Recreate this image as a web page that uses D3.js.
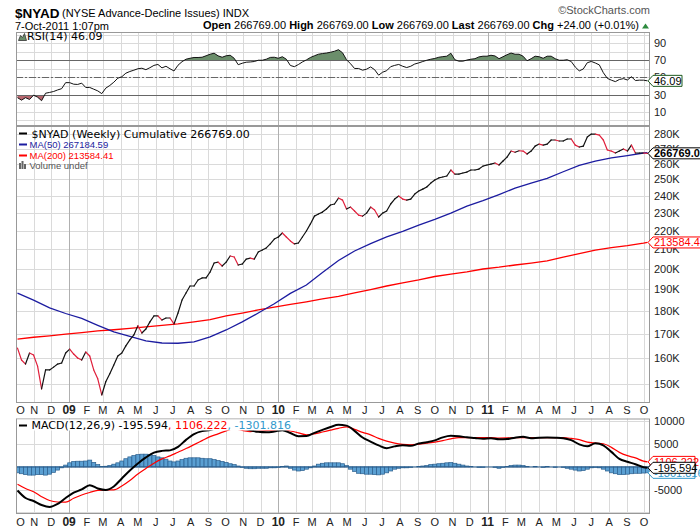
<!DOCTYPE html>
<html>
<head>
<meta charset="utf-8">
<script src="https://cdn.jsdelivr.net/npm/d3@7"></script>
<style>
body { margin:0; background:#fff; }
svg text { font-family: "Liberation Sans", Arial, sans-serif; }
</style>
</head>
<body>
<script>
// weekly $NYAD (cumulative A-D line), in thousands, 3-Oct-2008 .. 7-Oct-2011
var nyad = [164.1,159.3,157.7,162.1,161.3,156.9,148.2,155.4,155.4,156.5,
	157.7,158.1,162.1,163.7,161.7,160.1,159.3,162.5,160.9,155.4,
	152.0,146.0,150.9,153.9,157.3,160.9,162.1,165.0,167.5,169.6,
	173.5,170.4,172.1,175.2,177.8,177.8,176.0,176.9,176.9,174.3,
	179.1,185.0,188.3,191.6,191.6,194.5,195.5,195.5,198.4,202.9,
	203.4,201.4,203.4,206.5,206.0,201.9,202.4,204.9,205.4,204.9,
	208.6,209.6,210.7,212.8,215.4,216.5,218.7,216.5,214.4,212.8,
	213.3,216.5,219.8,223.7,228.1,229.3,230.4,232.2,234.5,235.1,
	238.6,237.4,232.2,233.3,231.0,228.7,228.1,229.8,233.3,231.6,
	227.6,229.8,231.0,235.1,238.0,239.8,238.0,237.4,238.0,241.0,
	242.8,244.0,245.3,247.7,249.6,250.9,251.5,252.1,255.9,253.3,
	253.3,254.0,254.6,255.9,255.9,256.5,258.4,259.1,259.7,260.4,
	259.1,261.7,264.3,268.3,267.5,268.5,268.3,266.3,268.3,271.6,
	273.0,272.3,273.0,275.8,275.8,275.1,275.1,276.5,276.5,272.3,
	271.0,271.6,277.9,279.9,279.9,279.2,275.8,269.0,268.3,267.0,
	268.3,269.7,268.3,272.3,267.0,267.0,267.0,266.769];

var rsi = [26.5,23.6,26.5,24.4,29.4,27.1,23.0,31.7,32.6,33.7,
	35.5,37.0,44.0,44.0,42.2,41.9,43.4,38.4,38.4,36.4,
	34.4,31.2,37.6,40.7,44.5,49.2,50.9,55.0,57.0,58.5,
	60.2,60.8,59.1,61.4,64.1,65.2,61.2,63.1,60.2,57.6,
	64.3,68.4,71.3,72.4,73.3,73.3,73.6,75.3,77.1,78.3,
	75.2,73.6,75.3,75.9,72.4,64.9,66.6,67.8,68.1,68.6,
	70.1,70.1,71.3,73.4,73.6,72.4,74.2,71.3,64.0,62.6,
	65.1,68.1,70.5,73.3,75.3,77.1,77.9,78.5,79.4,80.6,
	82.4,78.8,70.7,66.0,60.5,60.5,58.5,59.7,62.3,59.1,
	52.7,56.2,57.9,62.6,64.1,65.2,63.1,61.6,63.1,65.7,
	67.0,68.6,70.1,71.3,72.2,73.6,74.3,74.8,78.3,70.7,
	69.0,69.0,70.3,71.3,71.9,74.0,74.8,74.8,75.9,75.1,
	71.9,74.2,76.5,78.5,77.1,77.1,74.8,69.5,71.9,74.8,
	74.2,72.4,74.8,74.8,71.9,70.1,70.1,70.7,68.6,62.2,
	57.7,59.9,67.2,68.7,66.9,64.7,55.6,49.0,46.9,45.2,
	47.7,48.7,47.1,50.9,46.5,46.9,46.9,46.09];

// moving averages read every 4th week (last value = latest week), thousands
var ma50 = [188.2,185.0,181.4,178.9,176.7,173.7,170.9,169.0,167.1,166.2,
	166.1,166.7,168.8,171.7,175.2,179.1,183.3,188.1,192.1,198.2,
	204.2,209.1,213.0,216.6,219.6,223.0,226.2,229.8,233.8,237.1,
	240.7,244.6,247.6,250.6,254.8,258.9,261.6,263.7,265.3,267.0,267.18459];
var ma200 = [167.8,168.6,169.2,169.9,170.6,171.3,171.8,172.4,173.0,173.7,
	174.3,175.2,176.2,177.8,179.1,180.5,181.8,183.0,184.2,185.5,
	186.7,188.3,189.9,191.6,193.1,194.5,196.2,197.4,198.5,199.9,
	200.8,201.9,202.9,204.0,205.9,207.7,209.5,210.9,211.9,213.2,213.58441];

// MACD(12,26,9) read every 2nd week (last value = latest week)
var macdLine = [-5177,-6829,-7490,-8371,-8812,-8151,-6829,-5662,-4957,-4031,
	-4736,-5067,-4296,-2533,-771,771,2093,3150,3525,3635,
	4406,5948,7226,7865,8107,8592,8922,8812,8482,8041,
	7711,7600,7777,8085,7446,6763,6785,7490,8151,8768,
	9253,9077,7931,6455,5574,4736,4120,4516,4781,4626,
	5133,5441,5838,6499,6829,6719,6499,6345,6168,6279,
	6058,6124,6433,6609,6323,6433,6455,6411,6323,5882,
	4957,4516,5177,4736,3305,1762,1146,595,-66,-195.594];
var macdSignal = [-3789,-4736,-5463,-6543,-7380,-7711,-7755,-6895,-6168,-5618,
	-5177,-5067,-5067,-4186,-2974,-1542,-330,815,1762,2423,
	3238,4031,4891,5772,6653,7270,7931,8327,8041,7777,
	7887,7975,8041,8151,7887,7490,7050,7270,7666,8085,
	8482,8812,8261,7600,7050,6279,5662,5221,4957,4847,
	5023,5221,5463,5772,6168,6455,6455,6455,6455,6433,
	6345,6367,6433,6455,6455,6455,6455,6455,6433,6256,
	5992,5441,5243,5089,4296,3194,2467,1983,1278,1106.222];
// weekly histogram
var macdHist = [-1300,-1500,-1700,-1800,-1800,-1700,-1700,-1800,-1600,-1200,
	-700,-200,400,900,1200,1250,1250,1300,1500,1000,
	500,100,150,300,600,900,1300,1800,2200,2500,
	2700,2800,2800,2700,2500,2200,2000,1700,1300,1100,
	1300,1600,1900,2000,2000,2000,1900,1800,1800,1600,
	1400,1200,1000,700,500,200,-100,-300,-400,-400,
	-300,-300,-300,-200,-200,-100,100,200,-300,-700,
	-900,-800,-500,-200,200,600,800,900,900,900,
	900,700,300,-500,-1000,-1400,-1500,-1600,-1600,-1700,
	-1750,-1600,-1300,-900,-500,-300,-200,-200,-100,0,
	100,200,300,500,600,700,800,900,950,800,
	600,400,200,100,0,-100,-100,0,0,-100,
	-300,-100,100,300,400,400,300,100,0,100,
	0,-100,100,0,-100,0,-100,-300,-500,-700,
	-900,-800,-500,-200,-100,-200,-500,-900,-1300,-1500,
	-1700,-1700,-1600,-1500,-1400,-1400,-1350,-1301.816];

var rsiTicks = [90,70,50,30,10];
var rsiGrid = [0,10,20,30,40,50,60,70,80,90,100];
var mainTicks = [150,160,170,180,190,200,210,220,230,240,250,260,270,280];
var macdTicks = [10000,5000,0,-5000];
var macdGrid = [10000,5000,0,-5000,-10000];
var monthLetters = ["J","F","M","A","M","J","J","A","S","O","N","D"];
var quoteFields = [["Open","266769.00"],["High","266769.00"],["Low","266769.00"],["Last","266769.00"],["Chg","+24.00 (+0.01%)"]];

var left = 16, right = 650;
var rsiTop = 32, rsiBot = 126, mainTop = 126, mainBot = 403, macdTop = 418.5, macdBot = 514;

// plain hyphen for negatives, like the original
var loc = d3.formatLocale({decimal:".", thousands:",", grouping:[3], currency:["$",""], minus:"-"});
var fmt2 = loc.format(".2f"), fmt3 = loc.format(".3f");

var firstWeek = new Date(2008, 9, 3);
var weeks = nyad.map(function(d,i){ return d3.timeDay.offset(firstWeek, 7*i); });
function sparse(arr, step) {
	return arr.map(function(v,i){
		return { date: i == arr.length-1 ? weeks[weeks.length-1] : weeks[i*step], v: v };
	});
}

var x = d3.scaleTime()
	.domain([new Date(2008,8,30,9), new Date(2011,9,11,10)])
	.range([left, right]);
var yR = d3.scaleLinear().domain([-6.5,103]).range([rsiBot, rsiTop]);
var yM = d3.scaleLog().domain([143.1,285.6]).range([mainBot, mainTop]);
var yD = d3.scaleLinear().domain([-10350,10640]).range([macdBot, macdTop]);

var months = d3.timeMonth.range(new Date(2008,9,1), new Date(2011,9,2));

var svg = d3.select("body").append("svg")
	.attr("width",700)
	.attr("height",530)
	.style("display","block");

var y70 = Math.round(yR(70))+0.5, y30 = Math.round(yR(30))+0.5, y50 = Math.round(yR(50))+0.5;

var defs = svg.append("defs");
function clip(id, y0, y1) {
	defs.append("clipPath").attr("id",id)
		.append("rect").attr("x",left).attr("y",y0).attr("width",right-left).attr("height",y1-y0);
}
clip("clipRsi", rsiTop, rsiBot);
clip("clipRsiHi", rsiTop, y70);
clip("clipRsiLo", y30, rsiBot);
clip("clipMain", mainTop, mainBot);
clip("clipMacd", macdTop, macdBot);

// ---- header
svg.append("text").attr("x",15).attr("y",18)
	.style("font-size","13.5px").style("font-weight","bold").text("$NYAD");
svg.append("text").attr("x",62).attr("y",17)
	.style("font-size","11px").text("(NYSE Advance-Decline Issues) INDX");
svg.append("text").attr("x",15).attr("y",30)
	.style("font-size","11px").text("7-Oct-2011 1:07pm");
svg.append("text").attr("x",650).attr("y",14).attr("text-anchor","end")
	.style("font-size","11px").style("fill","#555").text("\u00a9StockCharts.com");

var quote = svg.append("text").attr("x",639).attr("y",29).attr("text-anchor","end")
	.style("font-size","11px");
quoteFields.forEach(function(f,i){
	quote.append("tspan").style("font-weight","bold").text((i ? " " : "") + f[0]);
	quote.append("tspan").text(" " + f[1]);
});
svg.append("path").attr("d","M642,28.5L645.5,23.5L649,28.5Z").attr("fill","#2e8b3e");

// ---- grid for a panel
function grid(top, bot, hvals, yscale) {
	var g = svg.append("g");
	g.append("rect").attr("x",left).attr("y",top).attr("width",right-left).attr("height",bot-top)
		.attr("fill","#fff");
	g.selectAll("line.h").data(hvals).enter().append("line")
		.attr("x1",left).attr("x2",right)
		.attr("y1",function(d){ return Math.round(yscale(d))+0.5; })
		.attr("y2",function(d){ return Math.round(yscale(d))+0.5; })
		.attr("stroke","#dadada");
	g.selectAll("line.v").data(months).enter().append("line")
		.attr("x1",function(d){ return Math.round(x(d))+0.5; })
		.attr("x2",function(d){ return Math.round(x(d))+0.5; })
		.attr("y1",top).attr("y2",bot)
		.attr("stroke",function(d){ return d.getMonth()==0 ? "#b0b0b0" : "#dadada"; });
	return g;
}
function frame(top, bot) {
	svg.append("rect").attr("x",left+0.5).attr("y",top+0.5)
		.attr("width",right-left-1).attr("height",bot-top-1)
		.attr("fill","none").attr("stroke","#999");
}
function rightLabels(vals, yscale, fmt) {
	svg.append("g").selectAll("text").data(vals).enter().append("text")
		.attr("x",654).attr("y",function(d){ return yscale(d)+4; })
		.style("font-size","11px").style("fill","#222")
		.text(fmt);
}
function monthLabels(y) {
	svg.append("g").selectAll("text").data(months).enter().append("text")
		.attr("x",function(d){ return x(d); })
		.attr("y",y)
		.attr("text-anchor",function(d,i){ return i==0 ? "start" : "middle"; })
		.style("font-size",function(d){ return d.getMonth()==0 ? "12px" : "11px"; })
		.style("font-weight",function(d){ return d.getMonth()==0 ? "bold" : "normal"; })
		.style("fill","#222")
		.text(function(d){ return d.getMonth()==0 ? d3.timeFormat("%y")(d) : monthLetters[d.getMonth()]; });
}
function priceTag(cy, label, edge, color, w, bold) {
	var x0 = 648, h = 11;
	var g = svg.append("g");
	g.append("path")
		.attr("d","M"+x0+","+cy+"L"+(x0+5)+","+(cy-h/2)+"L"+(x0+w)+","+(cy-h/2)+"L"+(x0+w)+","+(cy+h/2)+"L"+(x0+5)+","+(cy+h/2)+"Z")
		.attr("fill","#fff").attr("stroke",edge);
	g.append("text").attr("x",x0+6).attr("y",cy+4)
		.style("font-size","11px").style("font-weight",bold ? "bold" : "normal").style("fill",color)
		.text(label);
}

// ---- RSI panel
grid(rsiTop, rsiBot, rsiGrid, yR);
var rsiPts = weeks.map(function(d,i){ return {date:d, v:rsi[i]}; });
svg.append("path").datum(rsiPts).attr("clip-path","url(#clipRsiHi)")
	.attr("fill","#6b8e6b")
	.attr("d", d3.area().x(function(d){ return x(d.date); }).y0(y70+2).y1(function(d){ return yR(d.v); }));
svg.append("path").datum(rsiPts).attr("clip-path","url(#clipRsiLo)")
	.attr("fill","#b8676f")
	.attr("d", d3.area().x(function(d){ return x(d.date); }).y0(y30-2).y1(function(d){ return yR(d.v); }));
[y70, y30].forEach(function(yy){
	svg.append("line").attr("x1",left).attr("x2",right)
		.attr("y1",yy).attr("y2",yy).attr("stroke","#666");
});
svg.append("line").attr("x1",left).attr("x2",right)
	.attr("y1",y50).attr("y2",y50)
	.attr("stroke","#666").attr("stroke-dasharray","7,2,2,2");
svg.append("path").datum(rsiPts).attr("clip-path","url(#clipRsi)")
	.attr("fill","none").attr("stroke","#111").attr("stroke-width",1)
	.attr("d", d3.line().x(function(d){ return x(d.date); }).y(function(d){ return yR(d.v); }));
frame(rsiTop, rsiBot);
svg.append("path").attr("d","M18.5,40.5L20.5,35.5L22.5,37.5L24.5,33.5L26.5,40.5Z")
	.attr("fill","#6b8e6b").attr("stroke","#333").attr("stroke-width",0.8);
svg.append("text").attr("x",27).attr("y",40)
	.style("font-family","DejaVu Sans").style("font-size","11px")
	.text("RSI(14) " + fmt2(rsi[rsi.length-1]));
rightLabels(rsiTicks, yR, function(d){ return d; });

// ---- price panel
grid(mainTop, mainBot, mainTicks, yM);
var gm = svg.append("g").attr("clip-path","url(#clipMain)");
var lineM = d3.line().x(function(d){ return x(d.date); }).y(function(d){ return yM(d.v); });
gm.append("path").datum(sparse(ma200,4)).attr("fill","none")
	.attr("stroke","#ff0000").attr("stroke-width",1.3).attr("d",lineM);
gm.append("path").datum(sparse(ma50,4)).attr("fill","none")
	.attr("stroke","#1c1ca0").attr("stroke-width",1.3).attr("d",lineM);
// up weeks black, down weeks red
var segs = d3.pairs(weeks.map(function(d,i){ return {date:d, v:nyad[i]}; }));
gm.selectAll("line.seg").data(segs).enter().append("line")
	.attr("x1",function(d){ return x(d[0].date); })
	.attr("y1",function(d){ return yM(d[0].v); })
	.attr("x2",function(d){ return x(d[1].date); })
	.attr("y2",function(d){ return yM(d[1].v); })
	.attr("stroke",function(d){ return d[1].v < d[0].v ? "#e0203c" : "#111"; })
	.attr("stroke-width",1.2)
	.attr("stroke-linecap","round");
frame(mainTop, mainBot);

var lastN = nyad[nyad.length-1], last50 = ma50[ma50.length-1], last200 = ma200[ma200.length-1];
svg.append("line").attr("x1",19).attr("x2",27).attr("y1",133.5).attr("y2",133.5).attr("stroke","#000").attr("stroke-width",2);
svg.append("text").attr("x",31.5).attr("y",137.5)
	.style("font-family","DejaVu Sans").style("font-size","11px")
	.text("$NYAD (Weekly) Cumulative " + fmt2(lastN*1000));
svg.append("line").attr("x1",19).attr("x2",27).attr("y1",144.5).attr("y2",144.5).attr("stroke","#1c1ca0").attr("stroke-width",2);
svg.append("text").attr("x",29.5).attr("y",148)
	.style("font-size","9.5px").style("fill","#1c1ca0")
	.text("MA(50) " + fmt2(last50*1000));
svg.append("line").attr("x1",19).attr("x2",27).attr("y1",155.5).attr("y2",155.5).attr("stroke","#ff0000").attr("stroke-width",2);
svg.append("text").attr("x",29.5).attr("y",159)
	.style("font-size","9.5px").style("fill","#ff0000")
	.text("MA(200) " + fmt2(last200*1000));
[[19,163],[21.5,161],[24,164]].forEach(function(b){
	svg.append("rect").attr("x",b[0]).attr("y",b[1]).attr("width",2).attr("height",169-b[1]).attr("fill","#666");
});
svg.append("text").attr("x",29.5).attr("y",169)
	.style("font-size","9.5px").style("fill","#555").text("Volume undef");

rightLabels(mainTicks, yM, function(d){ return d + "K"; });
priceTag(yM(last200), fmt2(last200*1000), "#ff0000", "#ff0000", 60, false);
priceTag(yM(lastN), fmt2(lastN*1000), "#000", "#000", 60, true);
priceTag(yR(rsi[rsi.length-1]), fmt2(rsi[rsi.length-1]), "#1e5a1e", "#000", 34, false);

monthLabels(414);

// ---- MACD panel
grid(macdTop, macdBot, macdGrid, yD);
var gd = svg.append("g").attr("clip-path","url(#clipMacd)");
gd.selectAll("rect.bar").data(macdHist).enter().append("rect")
	.attr("x",function(d,i){ return x(weeks[i]) - 2; })
	.attr("width",4)
	.attr("y",function(d){ return Math.min(yD(0), yD(d)); })
	.attr("height",function(d){ return Math.abs(yD(d) - yD(0)); })
	.attr("fill","#5a9fd2")
	.attr("stroke","#2b5f8e")
	.attr("stroke-width",0.7);
gd.append("line").attr("x1",x(weeks[0])-2).attr("x2",x(weeks[weeks.length-1])+2)
	.attr("y1",yD(0)).attr("y2",yD(0)).attr("stroke","#2b5f8e");
var lineD = d3.line().curve(d3.curveMonotoneX).x(function(d){ return x(d.date); }).y(function(d){ return yD(d.v); });
gd.append("path").datum(sparse(macdSignal,2)).attr("fill","none")
	.attr("stroke","#ff0000").attr("stroke-width",1.2).attr("d",lineD);
gd.append("path").datum(sparse(macdLine,2)).attr("fill","none")
	.attr("stroke","#000").attr("stroke-width",2).attr("d",lineD);
frame(macdTop, macdBot);

var lastM = macdLine[macdLine.length-1], lastS = macdSignal[macdSignal.length-1], lastH = macdHist[macdHist.length-1];
svg.append("rect").attr("x",17).attr("y",419.5).attr("width",282).attr("height",11).attr("fill","#fff");
svg.append("line").attr("x1",19).attr("x2",27).attr("y1",425.5).attr("y2",425.5).attr("stroke","#000").attr("stroke-width",2);
var mt = svg.append("text").attr("x",31.5).attr("y",429)
	.style("font-family","DejaVu Sans").style("font-size","11px");
mt.append("tspan").text("MACD(12,26,9) " + fmt3(lastM));
mt.append("tspan").style("fill","#ff0000").text(", " + fmt3(lastS));
mt.append("tspan").style("fill","#3399cc").text(", " + fmt3(lastH));

rightLabels(macdTicks, yD, function(d){ return d; });
priceTag(yD(lastS), fmt3(lastS), "#ff0000", "#ff0000", 47, false);
priceTag(yD(lastH), fmt3(lastH), "#3399cc", "#3399cc", 47, false);
priceTag(yD(lastM), fmt3(lastM), "#000", "#000", 47, false);

monthLabels(526);
</script>
</body>
</html>
